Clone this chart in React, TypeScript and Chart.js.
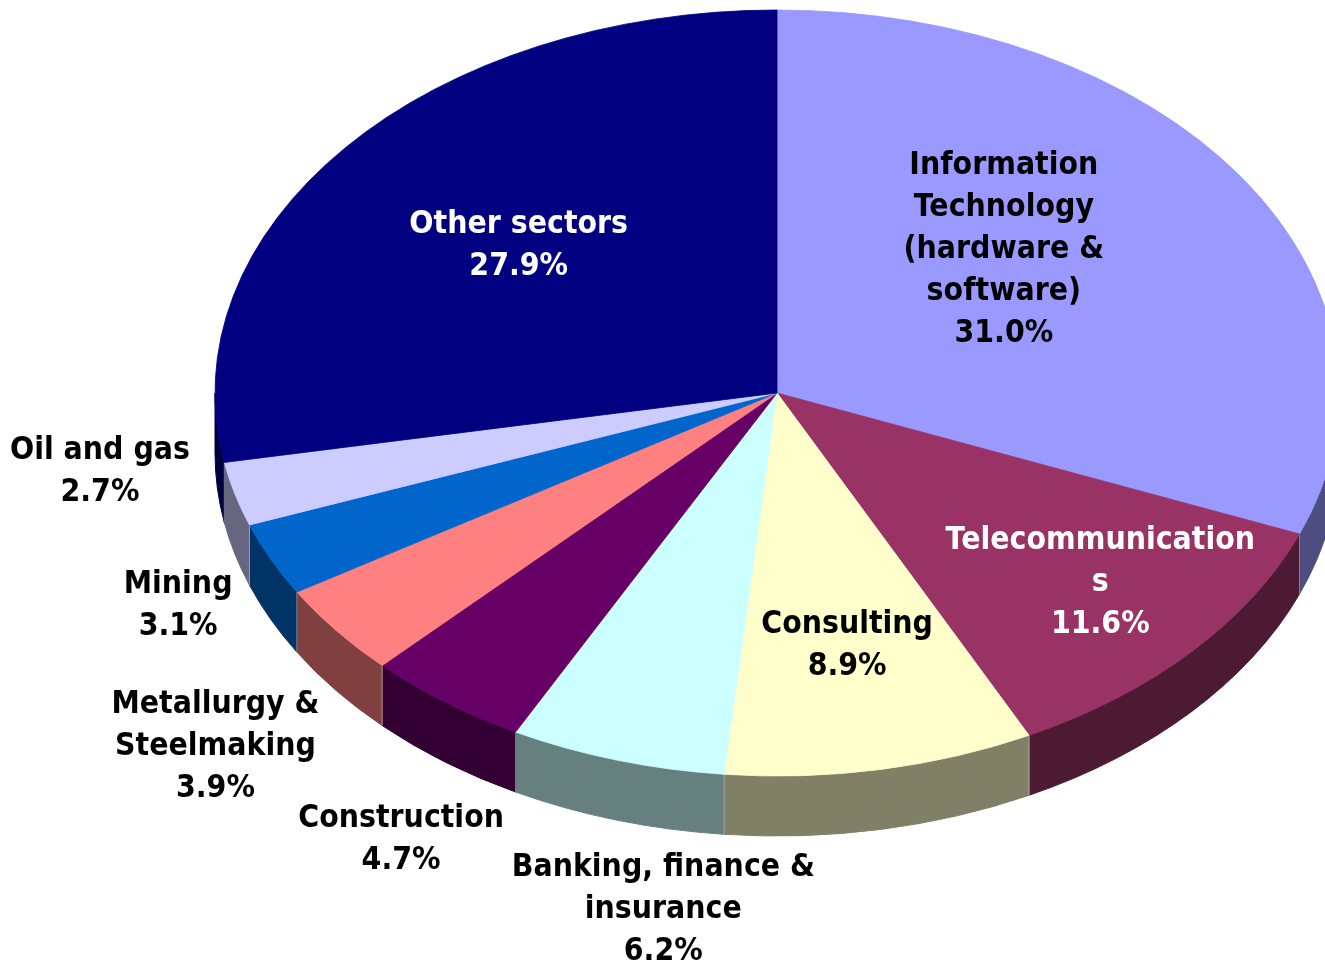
import React, { useEffect, useRef } from 'react';
import { Chart, registerables } from 'chart.js';

Chart.register(...registerables);

const categories = [
  'Information Technology (hardware & software)',
  'Telecommunications',
  'Consulting',
  'Banking, finance & insurance',
  'Construction',
  'Metallurgy & Steelmaking',
  'Mining',
  'Oil and gas',
  'Other sectors',
];
const shares = [31.0, 11.6, 8.9, 6.2, 4.7, 3.9, 3.1, 2.7, 27.9];
const labelLines = [
  ['Information', 'Technology', '(hardware &', 'software)'],
  ['Telecommunication', 's'],
  ['Consulting'],
  ['Banking, finance &', 'insurance'],
  ['Construction'],
  ['Metallurgy &', 'Steelmaking'],
  ['Mining'],
  ['Oil and gas'],
  ['Other sectors'],
];
const topColors = ['#9999FF', '#993366', '#FFFFCC', '#CCFFFF', '#660066', '#FF8080', '#0066CC', '#CCCCFF', '#000080'];
const sideColors = ['#4D4D80', '#4D1A33', '#808066', '#668080', '#330033', '#804040', '#003366', '#666680', '#000040'];
const textColors = ['#000000', '#FFFFFF', '#000000', '#000000', '#000000', '#000000', '#000000', '#000000', '#FFFFFF'];
// label anchor factors along each slice's mid-angle (x factor, y factor)
const labelPlace = [
  [0.488, 0.678],
  [0.78, 0.722],
  [0.677, 0.664],
  [0.71, 1.40],
  [1.133, 1.436],
  [1.274, 1.48],
  [1.183, 1.264],
  [1.249, 0.752],
  [0.598, 0.612],
];

const CX = 777;
const CY = 393;
const TILT = 383 / 562;
const DEPTH = 60;
const RADIUS = 562;

const pie3d = {
  id: 'pie3d',
  beforeDatasetsDraw(chart: any) {
    const ctx = chart.ctx as CanvasRenderingContext2D;
    const arcs = chart.getDatasetMeta(0).data as any[];
    if (!arcs.length) return;
    const rx = arcs[0].outerRadius;
    const ry = rx * TILT;
    ctx.save();
    arcs.forEach((arc, i) => {
      const s = arc.startAngle;
      const e = arc.endAngle;
      for (const shift of [-2 * Math.PI, 0, 2 * Math.PI]) {
        const a1 = Math.max(s + shift, 0);
        const a2 = Math.min(e + shift, Math.PI);
        if (a2 > a1) {
          ctx.beginPath();
          ctx.ellipse(CX, CY, rx, ry, 0, a1, a2);
          ctx.ellipse(CX, CY + DEPTH, rx, ry, 0, a2, a1, true);
          ctx.closePath();
          ctx.fillStyle = sideColors[i];
          ctx.fill();
          ctx.strokeStyle = sideColors[i];
          ctx.lineWidth = 1;
          ctx.stroke();
        }
      }
    });
    arcs.forEach((arc) => {
      const a = arc.endAngle;
      const sn = Math.sin(a);
      if (sn > 0.02) {
        const x = CX + rx * Math.cos(a);
        const y = CY + ry * sn;
        ctx.beginPath();
        ctx.moveTo(x, y);
        ctx.lineTo(x, y + DEPTH);
        ctx.strokeStyle = 'rgba(200,200,200,0.6)';
        ctx.lineWidth = 1;
        ctx.stroke();
      }
    });
    ctx.restore();
    ctx.save();
    ctx.translate(CX, CY);
    ctx.scale(1, TILT);
    ctx.translate(-arcs[0].x, -arcs[0].y);
  },
  afterDatasetsDraw(chart: any) {
    const ctx = chart.ctx as CanvasRenderingContext2D;
    const arcs = chart.getDatasetMeta(0).data as any[];
    if (!arcs.length) return;
    ctx.restore();
    const rx = arcs[0].outerRadius;
    const ry = rx * TILT;
    ctx.save();
    ctx.font = 'bold 32px "DejaVu Sans"';
    ctx.textAlign = 'center';
    ctx.textBaseline = 'middle';
    const lh = 42;
    arcs.forEach((arc, i) => {
      const mid = (arc.startAngle + arc.endAngle) / 2;
      const [fx, fy] = labelPlace[i];
      const x = CX + rx * fx * Math.cos(mid);
      const y = CY + ry * fy * Math.sin(mid) + 2.5;
      const lines = [...labelLines[i], shares[i].toFixed(1) + '%'];
      const top = y - ((lines.length - 1) * lh) / 2;
      ctx.fillStyle = textColors[i];
      lines.forEach((ln, j) => {
        ctx.save();
        ctx.translate(x, top + j * lh);
        ctx.scale(0.89, 1);
        ctx.fillText(ln, 0, 0);
        ctx.restore();
      });
    });
    ctx.restore();
  },
};

export default function App() {
  const ref = useRef<HTMLCanvasElement | null>(null);
  useEffect(() => {
    document.body.style.margin = '0';
    if (!ref.current) return;
    const chart = new Chart(ref.current, {
      type: 'pie',
      data: {
        labels: categories,
        datasets: [
          {
            data: shares,
            backgroundColor: topColors,
            borderColor: topColors,
            borderWidth: 1,
            radius: RADIUS,
            clip: false,
          } as any,
        ],
      },
      options: {
        responsive: false,
        animation: false,
        events: [],
        layout: { padding: 0 },
        plugins: {
          legend: { display: false },
          tooltip: { enabled: false },
          title: { display: false },
        },
      },
      plugins: [pie3d],
    });
    return () => chart.destroy();
  }, []);
  return (
    <div style={{ position: 'fixed', left: 0, top: 0, width: 1325, height: 966, overflow: 'hidden', background: '#fff' }}>
      <canvas ref={ref} width={1325} height={1140} style={{ display: 'block' }} />
    </div>
  );
}
